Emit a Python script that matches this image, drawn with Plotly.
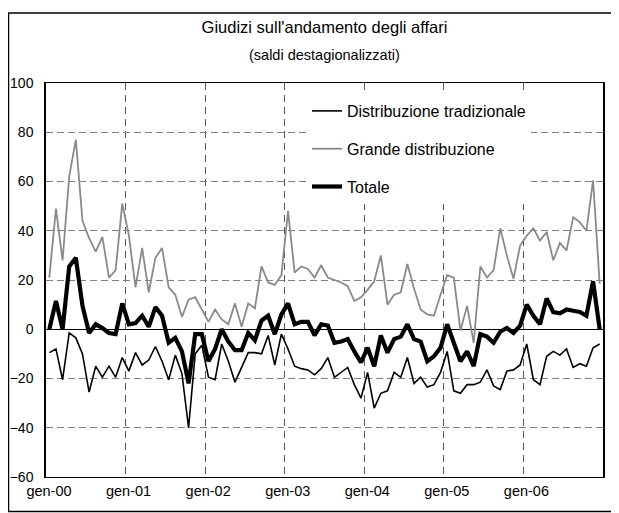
import plotly.graph_objects as go

# --- data (monthly, gen-2000 .. dic-2006) ---
tick_labels = ["gen-00", "gen-01", "gen-02", "gen-03", "gen-04", "gen-05", "gen-06"]

tradizionale = [
    -9.5, -8, -20.5, -1.5, -3.5, -10, -25.5, -15, -19.5, -15, -19.5, -11.5,
    -17, -9.5, -14.5, -12.5, -7, -13, -20.5, -10.5, -18, -40, -10, -6.5,
    -19.5, -20.5, -6, -13, -21.5, -15.5, -9.5, -9.5, -10, -2.5, -14.5, -2,
    -8, -15, -16, -16.5, -18.5, -16, -11.5, -19.5, -17.5, -15.5, -22.5, -28,
    -17.5, -32, -26, -25, -17.5, -19.5, -11.5, -22, -19.5, -23.5, -22.5, -17.5,
    -9, -25, -26, -22.5, -22.5, -21.5, -16.5, -23, -24.5, -17, -16.5, -14.5,
    -6, -20.5, -22.5, -11, -9, -10.5, -8, -15.5, -14, -15, -7.5, -6,
]

grande = [
    21, 49, 28, 62, 77, 44, 37, 31.5, 37.5, 21, 24, 51,
    38, 17, 33, 15, 29, 33, 17, 14, 5, 12, 13, 8,
    3, 8, 4, 2, 10.5, 1, 10.5, 8.5, 25.5, 19, 18, 22,
    48, 23, 25.5, 24.5, 21, 26, 21, 20, 19, 17.5, 11.5, 13,
    16, 19.5, 30, 10, 14, 15, 26.5, 16.5, 8, 6, 5.5, 14,
    22, 21, -0.5, 9.5, -5.5, 25.5, 21, 24, 41, 30, 20.5, 34,
    38, 41, 36, 39.5, 28, 35, 32, 45.5, 43.5, 40, 60.5, 18.5,
]

totale = [
    0, 11.5, 0, 25.5, 29, 9.5, -1.5, 2, 0.5, -1.5, -2, 10.5,
    2, 2.5, 5.5, 1, 9, 5.5, -5.5, -3.5, -9, -22, -2, -2,
    -13, -8, 0, -5, -8.5, -8.5, -1.5, -4.5, 3.5, 5.5, -2, 6,
    10.5, 2, 3, 3, -2.5, 2, 1.5, -5.5, -5, -4, -9, -13.5,
    -7.5, -15, -2.5, -9.5, -4, -3, 2, -4, -5, -13, -11, -7.5,
    2, -5, -13, -9, -15, -2, -3, -5.5, -1, 0.5, -1.5, 1.5,
    10, 5.5, 2, 12.5, 7, 6.5, 8, 7.5, 7, 5.5, 19.5, 0,
]

n_months = len(totale)
x_idx = list(range(n_months))
year_bounds = [12 * k - 0.5 for k in range(len(tick_labels))]

# page offset of the plot div (browser body margin)
OFF = 8
W, H = 611, 505
PX0, PX1, PY0, PY1 = 46, 603, 83, 477          # plot area in screen px
L, T = PX0 - OFF, PY0 - OFF
R, B = W - (PX1 - OFF), H - (PY1 - OFF)
pw, ph = PX1 - PX0, PY1 - PY0


def px(xs):
    return (xs - PX0) / pw


def py(ys):
    return (PY1 - ys) / ph


FONT = "Liberation Sans, Arial, sans-serif"

fig = go.Figure()
fig.add_trace(go.Scatter(x=x_idx, y=tradizionale, mode="lines",
                         name="Distribuzione tradizionale", legendgroup="a",
                         line=dict(color="#000000", width=1.6)))
fig.add_trace(go.Scatter(x=x_idx, y=grande, mode="lines",
                         name="Grande distribuzione", legendgroup="b",
                         line=dict(color="#8a8a8a", width=1.8)))
fig.add_trace(go.Scatter(x=x_idx, y=totale, mode="lines",
                         name="Totale", legendgroup="c",
                         line=dict(color="#000000", width=4.2)))

fig.update_layout(
    width=W, height=H,
    margin=dict(l=L, r=R, t=T, b=B, autoexpand=False),
    paper_bgcolor="white", plot_bgcolor="white",
    font=dict(family=FONT, size=14, color="black"),
    title=dict(text="Giudizi sull'andamento degli affari",
               x=0.5, xref="paper", xanchor="center",
               y=1 - (27 - OFF) / H, yref="container", yanchor="middle",
               font=dict(family=FONT, size=16.5, color="black")),
    showlegend=True,
    legend=dict(x=px(307), y=py(94), xanchor="left", yanchor="top",
                bgcolor="white", borderwidth=0, tracegroupgap=14,
                traceorder="grouped",
                font=dict(family=FONT, size=16, color="black")),
    xaxis=dict(range=[-0.5, n_months - 0.5], tickmode="array",
               tickvals=year_bounds, ticktext=tick_labels, automargin=False,
               ticklabelshift=3, ticks="", ticklabelstandoff=0,
               showgrid=True, gridcolor="#555555", griddash="7px,5px", gridwidth=1,
               showline=True, linecolor="black", linewidth=1.2, mirror=True,
               zeroline=False, tickfont=dict(size=14.5)),
    yaxis=dict(range=[-60, 100], dtick=20, tick0=0, ticks="", automargin=False,
               ticklabelstandoff=8,
               showgrid=True, gridcolor="#808080", griddash="7px,4px", gridwidth=1,
               showline=True, linecolor="black", linewidth=1.5, mirror=True,
               zeroline=True, zerolinecolor="black", zerolinewidth=1,
               tickfont=dict(size=14)),
    annotations=[dict(text="(saldi destagionalizzati)", x=0.5, xref="paper",
                      y=py(55), yref="paper", xanchor="center",
                      yanchor="middle", showarrow=False,
                      font=dict(family=FONT, size=14.5, color="black"))],
    shapes=[
        # outer frame of the chart
        dict(type="rect", xref="paper", yref="paper",
             x0=px(8.5), x1=px(612), y0=py(511.5), y1=py(13),
             line=dict(color="black", width=1.5), fillcolor="rgba(0,0,0,0)",
             layer="above"),
        # white legend panel hiding the gridlines behind the legend
        dict(type="rect", xref="paper", yref="paper",
             x0=px(270), x1=px(560), y0=py(207), y1=py(92),
             line=dict(width=0), fillcolor="white", layer="between"),
    ],
)

fig.write_html("out.html")
